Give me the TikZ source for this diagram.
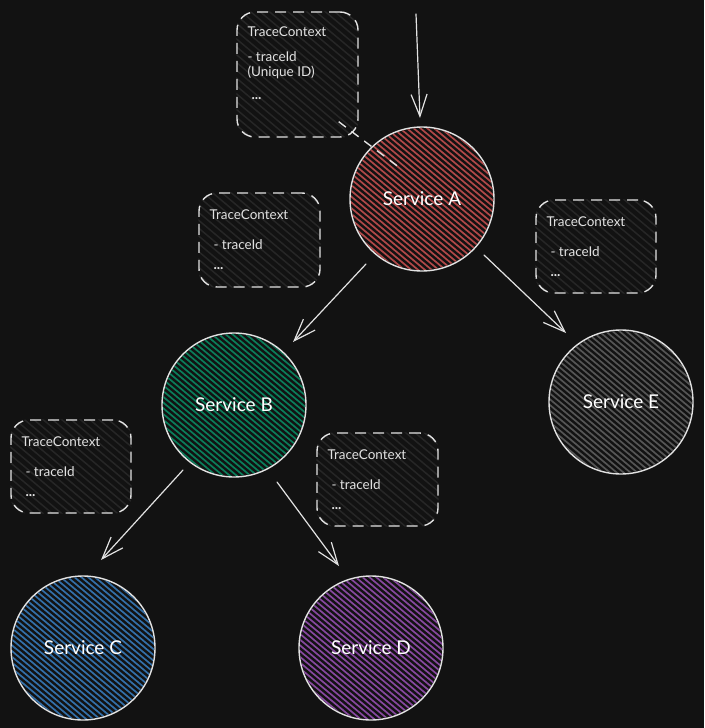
\documentclass[tikz,border=0pt]{standalone}
\usepackage{fontspec}
\setmainfont{Lato}
\usetikzlibrary{arrows.meta,calc}

\definecolor{canvasbg}{HTML}{121212}
\definecolor{ink}{HTML}{E2E2E2}
\definecolor{panelhatch}{HTML}{262626}
\definecolor{hatchA}{HTML}{B04848}
\definecolor{hatchB}{HTML}{0A7D5A}
\definecolor{hatchC}{HTML}{336FA8}
\definecolor{hatchD}{HTML}{86489E}
\definecolor{hatchE}{HTML}{555555}

\pgfdeclarelayer{under}
\pgfsetlayers{under,main}

\tikzset{
  svc/.style={circle, draw=ink, line width=1.4pt, minimum size=144pt, inner sep=0pt,
    text=white, font=\fontsize{19}{22}\selectfont},
  ctxbox/.style={draw=ink, line width=1.4pt, dash pattern=on 11pt off 7pt,
    rounded corners=18pt, inner sep=0pt},
  ctxtext/.style={anchor=base west, inner sep=0pt, text=ink, font=\fontsize{13.5}{16}\selectfont},
  flow/.style={draw=ink, line width=1.2pt, line cap=round,
    -{Straight Barb[length=22pt, width=16pt, line width=1.2pt]}},
  linkdash/.style={draw=ink, line width=1.4pt, dash pattern=on 9pt off 7pt},
}

% diagonal hachure inside a service disc
\newcommand\hatchdisc[2]{%
  \begin{scope}
    \clip (#1.center) circle[radius=71pt];
    \begin{scope}[shift={(#1.center)}, rotate=-40]
      \foreach \k in {-84,-79.6,...,84}
        \draw[#2, line width=1.7pt] (-90,\k) -- (90,\k);
    \end{scope}
  \end{scope}}

% faint hachure inside a context panel
\newcommand\hatchpanel[1]{%
  \begin{scope}
    \clip[rounded corners=18pt] (#1.south west) rectangle (#1.north east);
    \begin{scope}[shift={(#1.center)}, rotate=-40]
      \foreach \k in {-96,-90,...,96}
        \draw[panelhatch, line width=1.5pt] (-110,\k) -- (110,\k);
    \end{scope}
  \end{scope}}

\begin{document}
\begin{tikzpicture}[x=1pt, y=-1pt]
  \useasboundingbox (0,0) rectangle (704,728);
  \begin{pgfonlayer}{under}
    \fill[canvasbg] (0,0) rectangle (704,728);
  \end{pgfonlayer}

  % services
  \node[svc] (A) at (422,199) {Service A};
  \node[svc] (B) at (234,405) {Service B};
  \node[svc] (C) at (83,648)  {Service C};
  \node[svc] (D) at (371,648) {Service D};
  \node[svc] (E) at (621,402) {Service E};

  % context panels
  \node[ctxbox, minimum width=121pt, minimum height=125pt] (ctxTop) at (297.5,74.5) {};
  \node[ctxbox, minimum width=121pt, minimum height=94pt]  (ctxB)   at (259.5,240) {};
  \node[ctxbox, minimum width=120pt, minimum height=93pt]  (ctxE)   at (596,246.5) {};
  \node[ctxbox, minimum width=120pt, minimum height=93pt]  (ctxC)   at (71,466.5) {};
  \node[ctxbox, minimum width=121pt, minimum height=93pt]  (ctxD)   at (377.5,479.5) {};

  \begin{pgfonlayer}{under}
    \hatchdisc{A}{hatchA}
    \hatchdisc{B}{hatchB}
    \hatchdisc{C}{hatchC}
    \hatchdisc{D}{hatchD}
    \hatchdisc{E}{hatchE}
    \hatchpanel{ctxTop}
    \hatchpanel{ctxB}
    \hatchpanel{ctxE}
    \hatchpanel{ctxC}
    \hatchpanel{ctxD}
  \end{pgfonlayer}

  % panel texts
  \node[ctxtext] (ctxTop-title) at ($(ctxTop.north west)+(11,25)$) {TraceContext};
  \node[ctxtext] (ctxTop-id)    at ($(ctxTop.north west)+(11,50)$) {- traceId};
  \node[ctxtext] (ctxTop-note)  at ($(ctxTop.north west)+(11,65)$) {(Unique ID)};
  \node[ctxtext, font=\bfseries\fontsize{14}{16}\selectfont] (ctxTop-more)
    at ($(ctxTop.north west)+(15,88)$) {...};

  \foreach \p in {ctxB,ctxE,ctxC,ctxD}{
    \node[ctxtext] (\p-title) at ($(\p.north west)+(11,27)$) {TraceContext};
    \node[ctxtext] (\p-id)    at ($(\p.north west)+(15,57)$) {- traceId};
    \node[ctxtext, font=\bfseries\fontsize{14}{16}\selectfont] (\p-more)
      at ($(\p.north west)+(15,77)$) {...};
  }

  % incoming request
  \coordinate (entry) at (416,14);
  \draw[flow] (entry) -- ($(A)+(-2,-81)$);

  % propagation
  \draw[flow] ($(A)+(-56,65)$) -- ($(B)+(59,-63)$);
  \draw[flow] ($(A)+(62,56)$)  -- ($(E)+(-55,-69)$);
  \draw[flow] ($(B)+(-51,65)$) -- ($(C)+(18,-88)$);
  \draw[flow] ($(B)+(43,77)$)  -- ($(D)+(-32,-82)$);

  % context attached to Service A
  \draw[linkdash] ($(ctxTop.south east)+(-20,-16)$) -- ($(A)+(-22,-31)$);
\end{tikzpicture}
\end{document}
